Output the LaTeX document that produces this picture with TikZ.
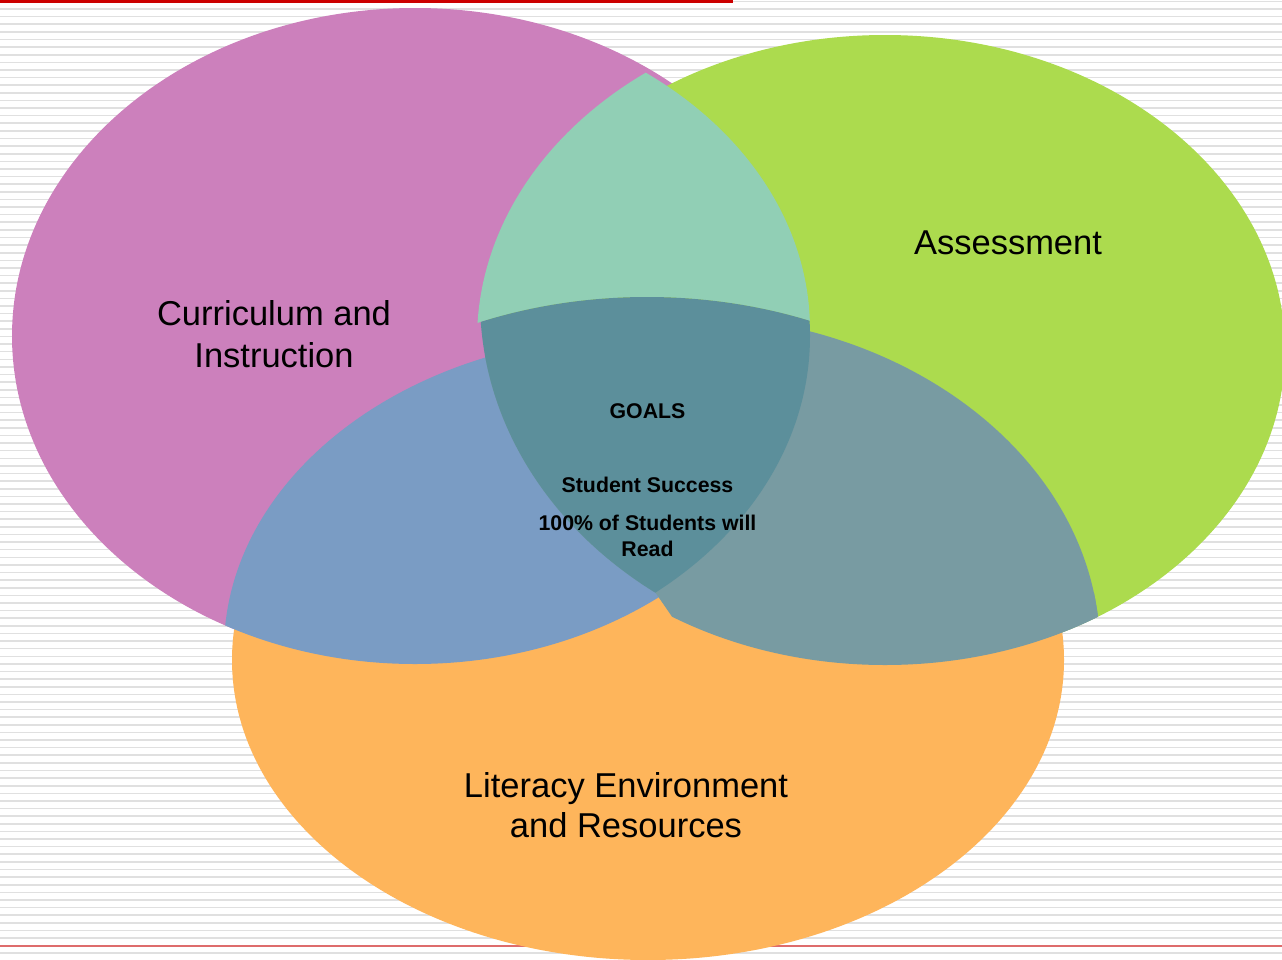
\documentclass[tikz,border=0pt]{standalone}
\usepackage{fontspec}
\setmainfont{Liberation Sans}
\definecolor{pinkc}{RGB}{204,128,188}
\definecolor{greenc}{RGB}{172,219,78}
\definecolor{orangec}{RGB}{254,181,91}
\definecolor{lensc}{RGB}{145,207,181}
\definecolor{bluec}{RGB}{122,156,196}
\definecolor{grayteal}{RGB}{120,155,162}
\definecolor{centerc}{RGB}{92,143,155}
\definecolor{stripegray}{RGB}{224,224,224}
\definecolor{topred}{RGB}{204,0,0}
\definecolor{botred}{RGB}{222,108,108}
\tikzset{
  stripe/.style={draw=stripegray, line width=1.6pt},
  bigtxt/.style={font=\fontsize{34.5}{41}\selectfont, inner sep=0pt, anchor=base, text=black},
  smalltxt/.style={font=\fontsize{21.3}{26}\selectfont\bfseries, inner sep=0pt, anchor=base, text=black},
  Epink/.style={insert path={(415,336) ellipse [x radius=403pt, y radius=328pt]}},
  Egreen/.style={insert path={(885,350) ellipse [x radius=400pt, y radius=315pt]}},
  Eorange/.style={insert path={(648,660) ellipse [x radius=416pt, y radius=300pt]}},
  Elensleft/.style={insert path={(885,340) ellipse [x radius=408pt, y radius=330pt]}},
  Elensright/.style={insert path={(405,330) ellipse [x radius=405pt, y radius=320pt]}},
  Ectop/.style={insert path={(647,597) ellipse [x radius=416pt, y radius=300pt]}},
  Ecleft/.style={insert path={(900,300) ellipse [x radius=420pt, y radius=360pt]}},
  Ecright/.style={insert path={(400,336) ellipse [x radius=410pt, y radius=328pt]}},
  Ebluetop/.style={insert path={(640,650) ellipse [x radius=416pt, y radius=315pt]}},
  Egtop/.style={insert path={(680,650) ellipse [x radius=420pt, y radius=335pt]}}
}
\begin{document}
\begin{tikzpicture}[x=1pt,y=-1pt]
\useasboundingbox (0,0) rectangle (1282,959);
\fill[white] (0,0) rectangle (1282,959);
% striped background
\foreach \k in {0,...,125}
  \draw[stripe] (0,{1.4+7.615*\k}) -- (1282,{1.4+7.615*\k});
\fill[topred] (0,0) rectangle (733,2.6);
\fill[botred] (0,944.7) rectangle (1282,946.9);
% base ellipses
\fill[pinkc, Epink];
\fill[greenc, Egreen];
\fill[orangec, Eorange];
% lens: curriculum & assessment
\begin{scope}
  \clip[Elensleft];
  \clip[Elensright];
  \begin{scope}[even odd rule]
    \clip (-10,-10) rectangle (1300,980) (647,597) ellipse [x radius=416pt, y radius=300pt];
    \fill[lensc] (0,0) rectangle (1282,959);
  \end{scope}
\end{scope}
% curriculum & literacy
\begin{scope}
  \clip[Epink];
  \clip[Ebluetop];
  \fill[bluec] (0,0) rectangle (1282,959);
\end{scope}
% assessment & literacy
\begin{scope}
  \clip[Egreen];
  \clip[Egtop];
  \begin{scope}
    \clip[Ecleft];
    \fill[grayteal] (0,0) rectangle (1282,959);
  \end{scope}
  \fill[grayteal] (655,592) -- (1282,592) -- (1282,959) -- (900,959) -- (695,650) -- cycle;
\end{scope}
% centre: all three
\begin{scope}
  \clip[Ectop];
  \clip[Ecleft];
  \clip[Ecright];
  \fill[centerc] (0,0) rectangle (1282,959);
\end{scope}
% labels
\node[bigtxt] (cur1) at (274,325.7) {Curriculum and};
\node[bigtxt] (cur2) at (274,367.3) {Instruction};
\node[bigtxt] (ass) at (1008,254.5) {Assessment};
\node[bigtxt] (lit1) at (626,797.3) {Literacy Environment};
\node[bigtxt] (lit2) at (626,837.8) {and Resources};
\node[smalltxt] (goals) at (647.5,418.3) {GOALS};
\node[smalltxt] (succ) at (647.5,492.3) {Student Success};
\node[smalltxt] (pct) at (647.5,530.7) {100\% of Students will};
\node[smalltxt] (read) at (647.5,556.7) {Read};
\end{tikzpicture}
\end{document}
